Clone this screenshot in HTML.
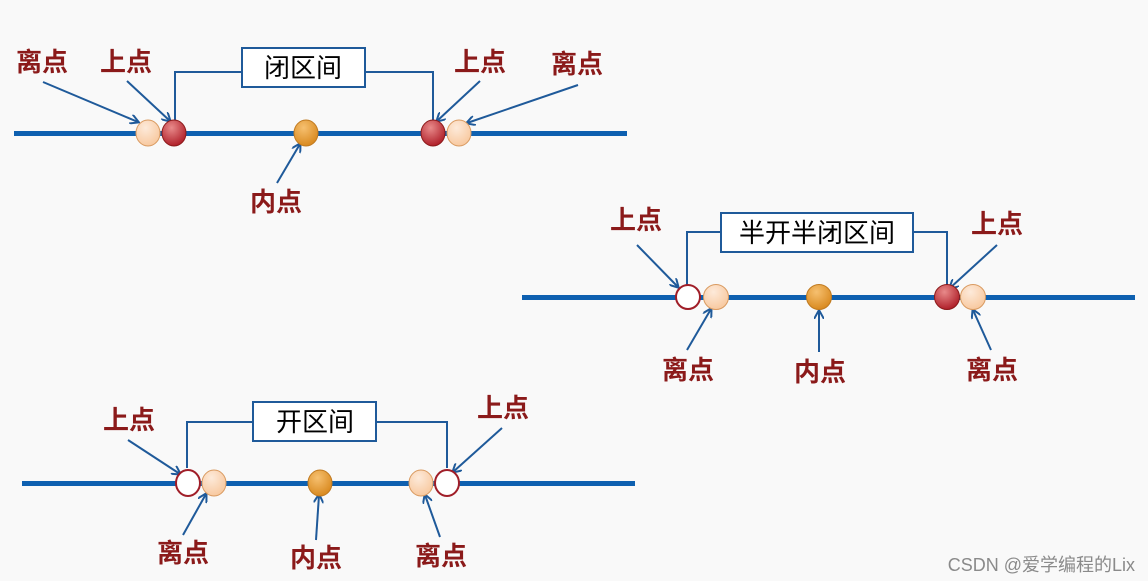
<!DOCTYPE html>
<html><head><meta charset="utf-8"><style>
html,body{margin:0;padding:0;background:#f9f9f9;}
svg{display:block}
.l{font-family:"Liberation Sans","Noto Sans CJK SC",sans-serif;font-size:26px;font-weight:bold;fill:#8b1a1a;text-anchor:middle}
.b{font-family:"Liberation Sans","Noto Sans CJK SC",sans-serif;font-size:26px;fill:#000;text-anchor:middle}
</style></head><body>
<svg width="1148" height="581" viewBox="0 0 1148 581" xmlns="http://www.w3.org/2000/svg">
<defs>
<marker id="a" markerWidth="10" markerHeight="10" refX="8" refY="5" orient="auto" markerUnits="userSpaceOnUse"><path d="M0,0 L9,5 L0,10" fill="none" stroke="#1f5a9a" stroke-width="2"/></marker>
<radialGradient id="red" cx="40%" cy="30%" r="70%"><stop offset="0" stop-color="#e88a8a"/><stop offset="1" stop-color="#b0202a"/></radialGradient>
<radialGradient id="org" cx="40%" cy="30%" r="70%"><stop offset="0" stop-color="#f6c070"/><stop offset="1" stop-color="#d98a20"/></radialGradient>
<radialGradient id="lt" cx="40%" cy="30%" r="70%"><stop offset="0" stop-color="#fdeada"/><stop offset="1" stop-color="#f8c9a0"/></radialGradient>
</defs>
<g stroke="#1f5a9a" stroke-width="2" fill="none">
<path d="M242,72 H175 V120"/><path d="M365,72 H433 V120"/>
<line x1="43" y1="82" x2="138" y2="122" marker-end="url(#a)"/>
<line x1="127" y1="81" x2="170" y2="121" marker-end="url(#a)"/>
<line x1="480" y1="81" x2="437" y2="121" marker-end="url(#a)"/>
<line x1="578" y1="85" x2="467" y2="123" marker-end="url(#a)"/>
<line x1="277" y1="183" x2="300" y2="144" marker-end="url(#a)"/>
<path d="M721,232 H687 V285"/><path d="M913,232 H947 V285"/>
<line x1="637" y1="245" x2="678" y2="287" marker-end="url(#a)"/>
<line x1="997" y1="245" x2="950" y2="288" marker-end="url(#a)"/>
<line x1="687" y1="350" x2="711" y2="309" marker-end="url(#a)"/>
<line x1="819" y1="352" x2="819" y2="311" marker-end="url(#a)"/>
<line x1="991" y1="350" x2="973" y2="310" marker-end="url(#a)"/>
<path d="M253,422 H187 V468"/><path d="M376,422 H447 V468"/>
<line x1="128" y1="440" x2="180" y2="474" marker-end="url(#a)"/>
<line x1="502" y1="428" x2="453" y2="472" marker-end="url(#a)"/>
<line x1="183" y1="535" x2="206" y2="494" marker-end="url(#a)"/>
<line x1="316" y1="540" x2="319" y2="495" marker-end="url(#a)"/>
<line x1="440" y1="537" x2="425" y2="495" marker-end="url(#a)"/>
</g>
<g fill="#0e60b0">
<rect x="14" y="131" width="613" height="5"/>
<rect x="522" y="295" width="613" height="5"/>
<rect x="22" y="481" width="613" height="5"/>
</g>
<g stroke-width="1">
<ellipse cx="148" cy="133" rx="12" ry="13" fill="url(#lt)" stroke="#d99a60"/>
<ellipse cx="174" cy="133" rx="12" ry="13" fill="url(#red)" stroke="#8b1a1a"/>
<ellipse cx="306" cy="133" rx="12" ry="13" fill="url(#org)" stroke="#c07a20"/>
<ellipse cx="433" cy="133" rx="12" ry="13" fill="url(#red)" stroke="#8b1a1a"/>
<ellipse cx="459" cy="133" rx="12" ry="13" fill="url(#lt)" stroke="#d99a60"/>
<circle cx="688" cy="297" r="12" fill="#fff" stroke="#a01e28" stroke-width="2"/>
<circle cx="716" cy="297" r="12.5" fill="url(#lt)" stroke="#d99a60"/>
<circle cx="819" cy="297" r="12.5" fill="url(#org)" stroke="#c07a20"/>
<circle cx="947" cy="297" r="12.5" fill="url(#red)" stroke="#8b1a1a"/>
<circle cx="973" cy="297" r="12.5" fill="url(#lt)" stroke="#d99a60"/>
<ellipse cx="188" cy="483" rx="12" ry="13" fill="#fff" stroke="#a01e28" stroke-width="2"/>
<ellipse cx="214" cy="483" rx="12" ry="13" fill="url(#lt)" stroke="#d99a60"/>
<ellipse cx="320" cy="483" rx="12" ry="13" fill="url(#org)" stroke="#c07a20"/>
<ellipse cx="421" cy="483" rx="12" ry="13" fill="url(#lt)" stroke="#d99a60"/>
<ellipse cx="447" cy="483" rx="12" ry="13" fill="#fff" stroke="#a01e28" stroke-width="2"/>
</g>
<g fill="#fff" stroke="#1f5a9a" stroke-width="2">
<rect x="242" y="48" width="123" height="39"/>
<rect x="721" y="213" width="192" height="39"/>
<rect x="253" y="402" width="123" height="39"/>
</g>
<text class="b" x="303" y="77">闭区间</text>
<text class="b" x="817" y="242">半开半闭区间</text>
<text class="b" x="315" y="431">开区间</text>
<text class="l" x="42" y="71">离点</text>
<text class="l" x="126" y="71">上点</text>
<text class="l" x="480" y="71">上点</text>
<text class="l" x="577" y="73">离点</text>
<text class="l" x="276" y="211">内点</text>
<text class="l" x="636" y="229">上点</text>
<text class="l" x="997" y="233">上点</text>
<text class="l" x="688" y="379">离点</text>
<text class="l" x="820" y="381">内点</text>
<text class="l" x="992" y="379">离点</text>
<text class="l" x="129" y="429">上点</text>
<text class="l" x="503" y="417">上点</text>
<text class="l" x="183" y="562">离点</text>
<text class="l" x="316" y="567">内点</text>
<text class="l" x="441" y="565">离点</text>
<text x="1135" y="571" text-anchor="end" font-family="Liberation Sans, Noto Sans CJK SC, sans-serif" font-size="18" fill="#8a8a8a">CSDN @爱学编程的Lix</text>
</svg>
</body></html>
